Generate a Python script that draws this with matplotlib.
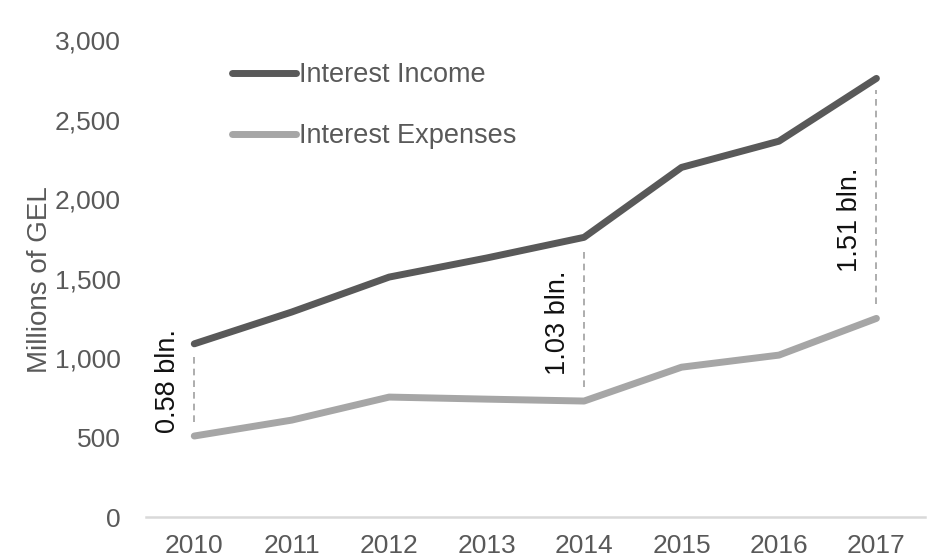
import matplotlib.pyplot as plt
from matplotlib.ticker import FuncFormatter

plt.rcParams['font.family'] = ['Liberation Sans', 'DejaVu Sans']

# Dados
anos = ['2010', '2011', '2012', '2013', '2014', '2015', '2016', '2017']
receita_juros = [1090, 1290, 1510, 1630, 1760, 2200, 2365, 2760]
despesa_juros = [510, 610, 755, 742, 730, 943, 1019, 1250]

# anos com a diferença destacada
anos_diferenca = ['2010', '2014', '2017']
rotulos_diferenca = ['0.58 bln.', '1.03 bln.', '1.51 bln.']
# altura do rótulo entre as duas linhas (fração da distância)
altura_rotulo = [0.6, 0.48, 0.41]

cor_receita = '#595959'
cor_despesa = '#a6a6a6'
cor_texto = '#595959'

fig = plt.figure(figsize=(9.27, 5.59), dpi=100)
ax = fig.add_axes([0.157, 0.075, 0.841, 0.853])

x = list(range(len(anos)))
ax.plot(x, receita_juros, color=cor_receita, linewidth=5, solid_capstyle='round', label='Interest Income')
ax.plot(x, despesa_juros, color=cor_despesa, linewidth=5, solid_capstyle='round', label='Interest Expenses')

# linhas tracejadas e rótulos da diferença
for ano, rotulo, frac in zip(anos_diferenca, rotulos_diferenca, altura_rotulo):
    i = anos.index(ano)
    topo = receita_juros[i]
    base = despesa_juros[i]
    ax.vlines(i, base + 90, topo - 70, colors='#a0a0a0', linestyles=(0, (4, 3)), linewidth=1.2)
    ax.text(i - 0.27, base + frac * (topo - base), rotulo, rotation=90, ha='center', va='center',
            fontsize=19.5, color='#111111')

ax.set_xlim(-0.5, len(anos) - 0.5)
ax.set_ylim(0, 3000)
ax.set_xticks(x)
ax.set_xticklabels(anos)
ax.set_yticks(range(0, 3001, 500))
ax.yaxis.set_major_formatter(FuncFormatter(lambda v, p: f'{int(v):,}'))
ax.tick_params(axis='both', length=0, labelsize=19, labelcolor=cor_texto)
ax.tick_params(axis='x', pad=12)
ax.tick_params(axis='y', pad=18)

for lado in ['top', 'right', 'left']:
    ax.spines[lado].set_visible(False)
ax.spines['bottom'].set_color('#d9d9d9')
ax.spines['bottom'].set_linewidth(1.8)

fig.text(0.043, 0.5, 'Millions of GEL', rotation=90, ha='center', va='center',
         fontsize=20, color=cor_texto)

ax.legend(loc='upper left', bbox_to_anchor=(0.236, 0.913), bbox_transform=fig.transFigure,
          frameon=False, fontsize=19.5, handlelength=2.35, handletextpad=0.1,
          labelspacing=1.3, borderpad=0, labelcolor=cor_texto)

plt.savefig('out.png')
